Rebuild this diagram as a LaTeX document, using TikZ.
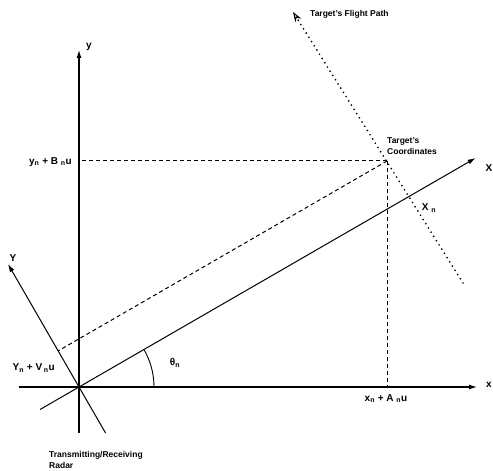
\documentclass[tikz,border=0pt]{standalone}
\usepackage{fontspec}
\setmainfont{Liberation Sans}
\usetikzlibrary{arrows.meta}
\tikzset{
  axis/.style={line width=1.1pt, -{Latex[length=8pt,width=5pt]}},
  rotaxis/.style={line width=1pt, -{Latex[length=8pt,width=5pt]}},
  guide/.style={line width=1pt, dash pattern=on 4pt off 3pt},
  path/.style={line width=1.9pt, line cap=round, dash pattern=on 0pt off 5pt,
    -{Stealth[open,length=10pt,width=7pt,line width=1pt]}},
  lbl/.style={font=\bfseries\fontsize{10}{12}\selectfont, inner sep=1pt},
  note/.style={font=\bfseries\fontsize{8.5}{10.5}\selectfont, inner sep=1pt, align=left}
}
\begin{document}
\begin{tikzpicture}[x=1pt,y=1pt]
  \useasboundingbox (-79,-84) rectangle (414,387);

  % radar at the origin
  \coordinate (O) at (0,0);
  \coordinate (T) at (308,226);
  \coordinate (Yn) at (120:41.7);

  % fixed axes
  \draw[axis] (0,-46) -- (0,337) coordinate (ytip);
  \draw[axis] (-60,0) -- (398,0) coordinate (xtip);
  \node[lbl,anchor=west] (ylab) at (6,340) {y};
  \node[lbl,anchor=west] (xlab) at (406,2) {x};

  % rotated axes
  \draw[rotaxis] (210:45) -- (30:458) coordinate (Xtip);
  \draw[rotaxis] (300:53) -- (120:142) coordinate (Ytip);
  \node[lbl] (Xlab) at (410,219) {X};
  \node[lbl] (Ylab) at (-66,129) {Y};

  % projections of the target
  \draw[guide] (T) -- (T -| O);
  \draw[guide] (T) -- (T |- O);
  \draw[guide] (T) -- (Yn);

  % flight path
  \coordinate (fpA) at (384,104);
  \coordinate (fpB) at (214,375);
  \draw[path] (fpA) -- (fpB);
  \node[note,anchor=west] (fplab) at (230,373) {Target's Flight Path};
  \node[note,anchor=west] (tlab) at (307,241) {Target's\\Coordinates};

  % angle
  \draw[line width=.9pt] ([shift={(0:75)}]O) arc[start angle=0,end angle=30,radius=75];
  \node[lbl] (theta) at (96,24) {θ\textsubscript{n}};

  \node[lbl,anchor=east] (yB) at (-6,225) {y\textsubscript{n} + B \textsubscript{n}u};
  \node[lbl,anchor=east] (YV) at (-23,19) {Y\textsubscript{n} + V\,\textsubscript{n}u};
  \node[lbl,anchor=north] (xA) at (307,-6) {x\textsubscript{n} + A \textsubscript{n}u};
  \node[lbl] (Xn) at (350,179) {X \textsubscript{n}};

  \node[note,anchor=west] (radar) at (-31,-73) {Transmitting/Receiving\\Radar};
\end{tikzpicture}
\end{document}
